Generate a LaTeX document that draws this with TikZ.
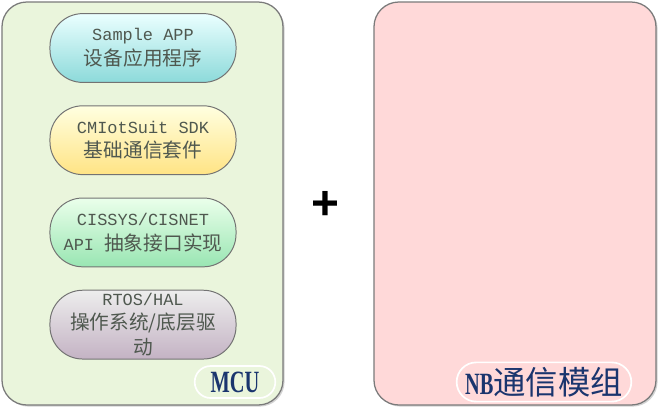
\documentclass[tikz,border=0pt]{standalone}
\usepackage{fontspec}
\usepackage{tikz}
\usetikzlibrary{positioning,shapes.misc,shadows}
\newfontfamily\cjk{Noto Sans CJK SC}
\newfontfamily\mono[Scale=0.86]{Liberation Mono}
\newfontfamily\tagserif[FakeStretch=0.66]{Liberation Serif}
\newfontfamily\plusfont{Liberation Sans}
\definecolor{mcubg}{HTML}{EAF5DC}
\definecolor{nbbg}{HTML}{FFD9D9}
\definecolor{txtgray}{HTML}{4F584F}
\definecolor{tagblue}{HTML}{1A356E}
\definecolor{edgegray}{HTML}{7A7A7A}
\tikzset{
  every picture/.style={line join=round, line cap=round},
  chip/.style={draw=edgegray, line width=0.9pt, rounded corners=0.62cm,
    drop shadow={shadow xshift=0.04cm, shadow yshift=-0.04cm, opacity=0.35}},
  layer/.style={rectangle, rounded corners=0.82cm, draw=black!55, line width=0.7pt,
    minimum width=4.65cm, minimum height=1.72cm, inner sep=0pt,
    align=center, text=txtgray, font=\fontsize{14}{17.5}\selectfont},
  tag/.style={rounded rectangle, draw=white, line width=1.2pt,
    minimum height=0.8cm, text=tagblue},
}
\begin{document}
\begin{tikzpicture}[x=0.025cm,y=-0.025cm]
\useasboundingbox (0,0) rectangle (659,410);
% the two parts
\draw[chip, fill=mcubg] (2,2) rectangle (283,405);
\draw[chip, fill=nbbg] (374,2) rectangle (656,405);
% software layers on the MCU
\node[layer, top color=cyan!8!white, bottom color=cyan!35!teal!45!white] (app) at (143,48)
  {{\mono Sample APP}\\{\cjk 设备应用程序}};
\node[layer, below=0.56cm of app, top color=yellow!12!white, bottom color=yellow!55!orange!48!white] (sdk)
  {{\mono CMIotSuit SDK}\\{\cjk 基础通信套件}};
\node[layer, below=0.56cm of sdk, top color=green!8!white, bottom color=green!50!teal!40!white] (api)
  {{\mono CISSYS/CISNET}\\{\mono API }{\cjk 抽象接口实现}};
\node[layer, below=0.56cm of api, top color=black!7!white, bottom color=violet!45!black!30!white] (os)
  {{\mono RTOS/HAL}\\{\cjk 操作系统/底层驱}\\{\cjk 动}};
% labels
\node[tag, minimum width=2.25cm, font=\tagserif\bfseries\fontsize{22}{24}\selectfont] (mcu) at (235,382) {MCU};
\node[tag, minimum width=4.6cm] (nb) at (544,382)
  {{\tagserif\bfseries\fontsize{22}{24}\selectfont NB}{\cjk\fontsize{23}{24}\selectfont 通信模组}};
\node[font=\plusfont\bfseries\fontsize{34}{36}\selectfont] (plus) at (325,205) {+};
\end{tikzpicture}
\end{document}
